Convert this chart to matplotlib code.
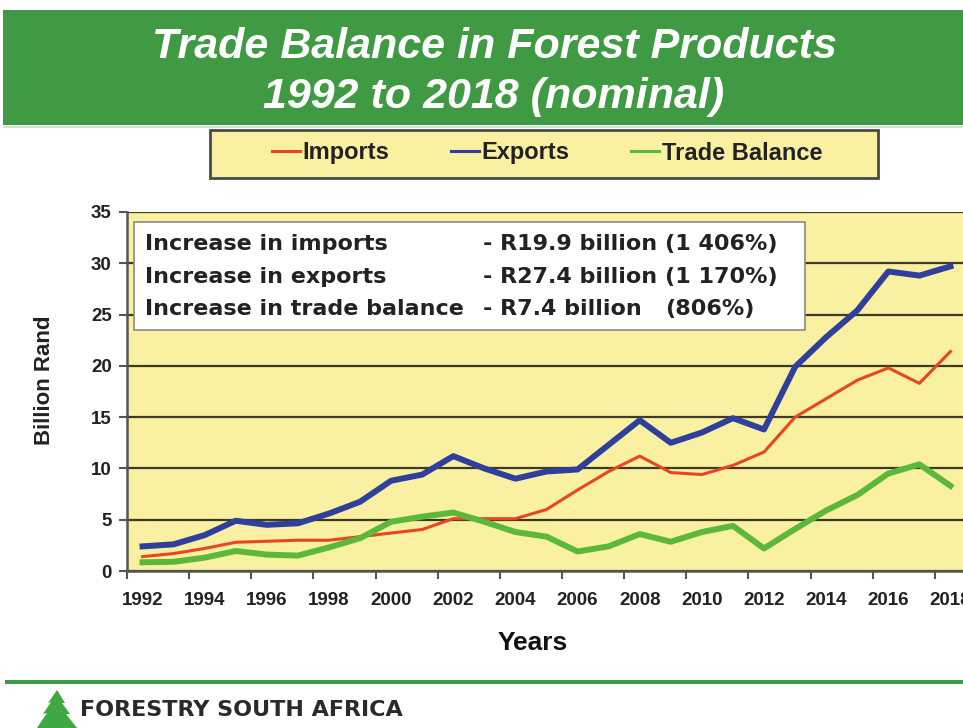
import matplotlib
matplotlib.use("Agg")
import matplotlib.pyplot as plt
from matplotlib import font_manager
from matplotlib.patches import Rectangle, Polygon
from matplotlib.lines import Line2D

# ====== DATA (billion Rand, nominal) ======
years = list(range(1992, 2019))
imports = [1.4, 1.7, 2.2, 2.8, 2.9, 3.0, 3.0, 3.35, 3.7, 4.05, 5.1, 5.1, 5.1, 6.0,
           7.9, 9.7, 11.2, 9.6, 9.4, 10.3, 11.6, 15.0, 16.8, 18.6, 19.8, 18.3, 21.4]
exports = [2.4, 2.6, 3.5, 4.9, 4.5, 4.65, 5.6, 6.75, 8.8, 9.4, 11.2, 10.0, 9.0, 9.7,
           9.9, 12.3, 14.7, 12.5, 13.5, 14.9, 13.8, 19.9, 22.8, 25.4, 29.2, 28.8, 29.7]
balance = [0.85, 0.9, 1.3, 1.95, 1.6, 1.5, 2.3, 3.2, 4.8, 5.3, 5.7, 4.8, 3.8, 3.35,
           1.9, 2.4, 3.6, 2.85, 3.8, 4.4, 2.2, 4.1, 5.9, 7.4, 9.5, 10.4, 8.3]

series_names = ["Imports", "Exports", "Trade Balance"]
summary_labels = ["Increase in imports", "Increase in exports", "Increase in trade balance"]
summary_amounts = ["- R19.9 billion", "- R27.4 billion", "- R7.4 billion"]
summary_pcts = ["(1 406%)", "(1 170%)", "(806%)"]

# ====== STYLE ======
GREEN = "#3f9a43"
YELLOW = "#faf0a2"
RED = "#e8461e"
BLUE = "#2f3f9c"
LGREEN = "#5cb83a"
GRID = "#3d3b28"

names = {f.name for f in font_manager.fontManager.ttflist}
narrow = "Liberation Sans Narrow" if "Liberation Sans Narrow" in names else "Liberation Sans"
title_size = 35 if narrow == "Liberation Sans Narrow" else 31
plt.rcParams["font.family"] = ["Liberation Sans", "DejaVu Sans"]

W, H = 963, 728
fig = plt.figure(figsize=(W / 100, H / 100), dpi=100)


def fx(px):
    return px / W


def fy(py):
    return 1 - py / H


# ====== HEADER ======
fig.patches.append(Rectangle((fx(3), fy(125)), fx(963), 115 / H, transform=fig.transFigure,
                             facecolor=GREEN, edgecolor="none", zorder=0))
fig.patches.append(Rectangle((fx(3), fy(128)), fx(963), 2 / H, transform=fig.transFigure,
                             facecolor="#cfe6cb", edgecolor="none", zorder=0))
fig.text(fx(494), fy(47), "Trade Balance in Forest Products", family=narrow, weight="bold",
         style="italic", size=title_size, color="white", ha="center", va="center")
fig.text(fx(494), fy(97), "1992 to 2018 (nominal)", family=narrow, weight="bold",
         style="italic", size=title_size, color="white", ha="center", va="center")

# ====== PLOT ======
ax = fig.add_axes([fx(127), fy(571), (966 - 127) / W, (571 - 212) / H])
ax.set_facecolor(YELLOW)
x = list(range(len(years)))
ax.plot(x, imports, color=RED, lw=2.2, label=series_names[0], zorder=3)
ax.plot(x, exports, color=BLUE, lw=4.3, label=series_names[1], zorder=3)
ax.plot(x, balance, color=LGREEN, lw=4.3, label=series_names[2], zorder=3)

ax.set_xlim(-0.5, len(years) - 0.5)
ax.set_ylim(0, 35)
ax.set_yticks(range(0, 36, 5))
ax.yaxis.grid(True, color=GRID, lw=1.6)
ax.set_axisbelow(True)

# year labels on categories, tick marks on category boundaries
ax.set_xticks(x[::2])
ax.set_xticklabels([str(y) for y in years[::2]])
ax.set_xticks([i - 0.5 for i in range(0, len(years) + 1, 2)], minor=True)
ax.tick_params(axis="x", which="major", length=0, pad=15)
ax.tick_params(axis="x", which="minor", length=6, width=1.5, color="#555555", direction="out")
ax.tick_params(axis="y", length=6, width=1.5, color="#555555", pad=5)
for lab in ax.get_xticklabels() + ax.get_yticklabels():
    lab.set_fontweight("bold")
    lab.set_fontsize(13.5)
    lab.set_color("#222222")

for side in ["top", "right"]:
    ax.spines[side].set_visible(False)
ax.spines["left"].set_color("#555555")
ax.spines["left"].set_linewidth(1.8)
ax.spines["bottom"].set_color("#555555")
ax.spines["bottom"].set_linewidth(1.8)

ax.set_ylabel("Billion Rand", fontsize=16, fontweight="bold", color="#222222")
ax.yaxis.set_label_coords((45 - 127) / 839, (571 - 380) / 359)
ax.set_xlabel("Years", fontsize=19, fontweight="bold", color="#111111")
ax.xaxis.set_label_coords((533 - 127) / 839, (571 - 643) / 359)
ax.xaxis.label.set_va("center")
ax.yaxis.label.set_va("center")

# ====== LEGEND BOX ======
fig.patches.append(Rectangle((fx(210), fy(178)), (878 - 210) / W, 48 / H, transform=fig.transFigure,
                             facecolor=YELLOW, edgecolor="#4a4a4a", lw=2, zorder=1))
handles = [Line2D([], [], color=c, lw=2.2) for c in (RED, BLUE, LGREEN)]
leg = fig.legend(handles, series_names, loc="center", bbox_to_anchor=(fx(547), fy(153)),
                 ncol=3, frameon=False, handlelength=1.2, handletextpad=0.1,
                 columnspacing=2.6, prop={"weight": "bold", "size": 17})
for t in leg.get_texts():
    t.set_color("#222222")

# ====== SUMMARY BOX ======
fig.patches.append(Rectangle((fx(134), fy(330)), (805 - 134) / W, 108 / H, transform=fig.transFigure,
                             facecolor="white", edgecolor="#8a8a8a", lw=1.2, zorder=5))
rows_y = [244, 277, 309]
box_font = dict(family="DejaVu Sans", weight="bold", size=16, color="#222222", va="center", zorder=6)
for yy, lab, amt, pct in zip(rows_y, summary_labels, summary_amounts, summary_pcts):
    fig.text(fx(145), fy(yy), lab, **box_font)
    fig.text(fx(483), fy(yy), amt, **box_font)
    fig.text(fx(665), fy(yy), pct, **box_font)

# ====== FOOTER ======
fig.patches.append(Rectangle((fx(5), fy(684)), fx(958), 4 / H, transform=fig.transFigure,
                             facecolor=GREEN, edgecolor="none"))
tree = [(37, 728), (47, 713), (43, 714), (51, 702), (48, 703), (57, 690),
        (65, 703), (62, 703), (70, 714), (66, 714), (77, 728)]
fig.patches.append(Polygon([(fx(a), fy(b)) for a, b in tree], closed=True, transform=fig.transFigure,
                           facecolor="#3ea843", edgecolor="none"))
fig.text(fx(80), fy(710), "FORESTRY SOUTH AFRICA", family="DejaVu Sans", weight="bold",
         size=16, color="#2a2a2a", va="center")

plt.savefig("out.png", dpi=100)
